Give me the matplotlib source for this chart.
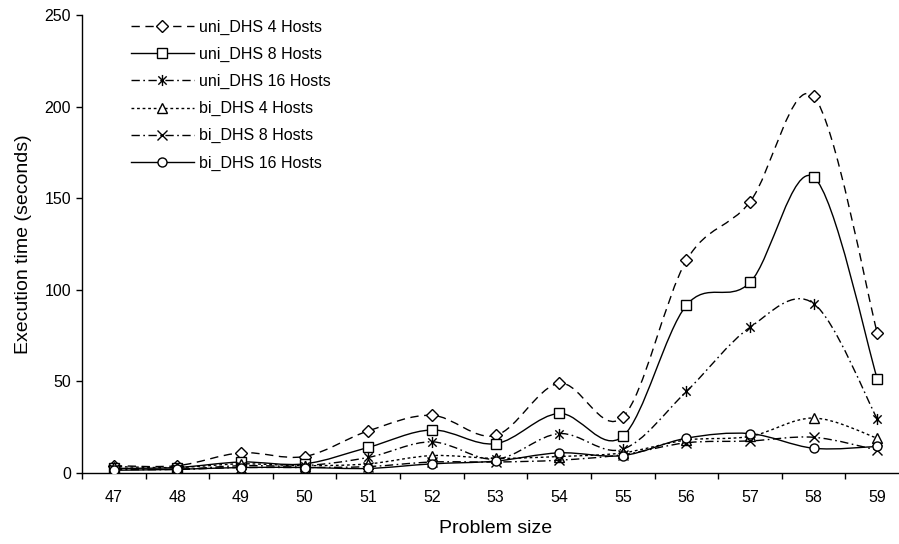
import numpy as np
import matplotlib
matplotlib.use("Agg")
from matplotlib import pyplot as plt
from matplotlib.path import Path
from matplotlib.patches import PathPatch
from matplotlib.lines import Line2D

plt.rcParams['font.family'] = ['Liberation Sans', 'DejaVu Sans']

sizes = [47, 48, 49, 50, 51, 52, 53, 54, 55, 56, 57, 58, 59]

uni_4 = [4, 4, 11, 9, 23, 31.5, 20.5, 49, 30.5, 116, 148, 205.5, 76.5]
uni_8 = [2.5, 3, 6, 5, 14, 23.5, 16, 32.5, 20, 91.5, 104, 161.5, 51.5]
uni_16 = [2, 2, 4, 4, 8.5, 17, 7.5, 21.5, 13, 44.5, 79.5, 92.5, 29.5]
bi_4 = [3.5, 3, 5, 4, 5, 9.5, 8, 9, 11, 18, 20, 30, 19]
bi_8 = [2, 2, 3, 3, 3.5, 6, 6, 7, 10, 16.5, 17.5, 19.5, 12.5]
bi_16 = [1.5, 2, 3, 3, 2.5, 5, 6.5, 11, 9.5, 19, 21.5, 13.5, 14.5]

labels = ['uni_DHS 4 Hosts', 'uni_DHS 8 Hosts', 'uni_DHS 16 Hosts',
          'bi_DHS 4 Hosts', 'bi_DHS 8 Hosts', 'bi_DHS 16 Hosts']

# asterisk marker: vertical bar plus an x
star = Path([(0, -1), (0, 1), (-0.75, -0.75), (0.75, 0.75), (-0.75, 0.75), (0.75, -0.75)],
            [Path.MOVETO, Path.LINETO, Path.MOVETO, Path.LINETO, Path.MOVETO, Path.LINETO])

styles = [
    dict(ls=(0, (6, 4)), marker='D', ms=6.0),
    dict(ls='-', marker='s', ms=6.5),
    dict(ls=(0, (6, 2.5, 1.2, 2.5)), marker=star, ms=8),
    dict(ls=(0, (2, 2)), marker='^', ms=7),
    dict(ls=(0, (6, 2.5, 1.2, 2.5)), marker='x', ms=7),
    dict(ls='-', marker='o', ms=6.5),
]


def smooth_path(xs, ys):
    # Catmull-Rom style bezier through the points
    pts = np.column_stack([xs, ys]).astype(float)
    n = len(pts)
    verts = [pts[0]]
    codes = [Path.MOVETO]
    for i in range(n - 1):
        p0 = pts[max(i - 1, 0)]
        p1 = pts[i]
        p2 = pts[i + 1]
        p3 = pts[min(i + 2, n - 1)]
        verts += [p1 + (p2 - p0) / 6, p2 - (p3 - p1) / 6, p2]
        codes += [Path.CURVE4] * 3
    return Path(verts, codes)


fig = plt.figure(figsize=(8.99, 5.44), dpi=100)
ax = fig.add_axes([0.0912, 0.1305, 0.92, 0.842])

xs = np.arange(len(sizes))
series = [uni_4, uni_8, uni_16, bi_4, bi_8, bi_16]
handles = []
for k, (ys, st) in enumerate(zip(series, styles)):
    ax.add_patch(PathPatch(smooth_path(xs, ys), fill=False, edgecolor='black',
                           lw=1.0, linestyle=st['ls'], zorder=2 + k))
    ax.plot(xs, ys, ls='none', marker=st['marker'], ms=st['ms'], mfc='white',
            mec='black', mew=1.0, zorder=2.5 + k)
    handles.append(Line2D([], [], color='black', lw=1.0, ls=st['ls'],
                          marker=st['marker'], ms=st['ms'], mfc='white',
                          mec='black', mew=1.0))

ax.set_xlim(-0.5, len(sizes) - 0.5)
ax.set_ylim(0, 250)
ax.set_yticks(range(0, 251, 50))
ax.set_xticks(xs)
ax.set_xticklabels([str(s) for s in sizes])
ax.set_xticks(np.arange(-0.5, len(sizes)), minor=True)
ax.tick_params(axis='x', which='major', length=0, pad=12, labelsize=11.5)
ax.tick_params(axis='x', which='minor', length=4.5, width=1, direction='out')
ax.tick_params(axis='y', length=4, width=1, direction='out', labelsize=11.5, pad=4)

for side in ['top', 'right']:
    ax.spines[side].set_visible(False)
for side in ['left', 'bottom']:
    ax.spines[side].set_linewidth(1.0)

ax.set_xlabel('Problem size', fontsize=14, labelpad=11)
ax.set_ylabel('Execution time (seconds)', fontsize=14, labelpad=9)

ax.legend(handles, labels, loc='upper left', bbox_to_anchor=(0.13, 0.99),
          bbox_transform=fig.transFigure, frameon=False, fontsize=11.5,
          handlelength=3.9, handletextpad=0.35, labelspacing=0.75, numpoints=1)

fig.savefig('out.png', dpi=100)
